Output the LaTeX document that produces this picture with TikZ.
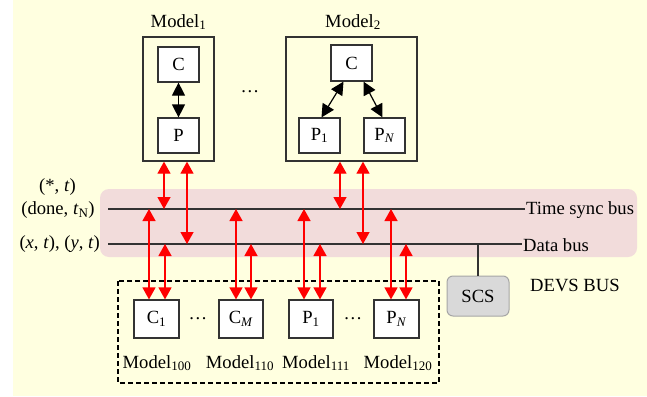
\documentclass[tikz,border=0pt]{standalone}
\usepackage{fontspec}
\setmainfont{Liberation Serif}
\usetikzlibrary{arrows.meta,calc}
\definecolor{bgyellow}{HTML}{FFFFE0}
\definecolor{buspink}{HTML}{F2DCDB}
\definecolor{scsgray}{HTML}{D9D9D9}
\definecolor{scsedge}{HTML}{A6A6A6}
\definecolor{edge}{HTML}{333333}
\begin{document}
\begin{tikzpicture}[x=1pt,y=-1pt,
  font=\fontsize{18.6}{21}\selectfont,
  box/.style={draw=edge, line width=1.2pt, fill=white, minimum width=41pt,
    minimum height=35pt, inner sep=0pt},
  leafbox/.style={box, minimum width=44pt, minimum height=38pt},
  frame/.style={draw=edge, line width=1.3pt, inner sep=0pt},
  busline/.style={draw=edge, line width=1.3pt},
  rarr/.style={draw=red, line width=1.3pt, <->, >={Triangle[width=13pt,length=12pt]}},
  barr/.style={draw=black, line width=1.2pt, <->, >={Triangle[width=13pt,length=13pt]}},
  txt/.style={inner sep=0pt}]

\useasboundingbox (0,0) rectangle (647,396);
\fill[bgyellow] (13,0) rectangle (647,396);

% bus band
\fill[buspink, rounded corners=9pt] (100,189) rectangle (637,257);

% upper models
\node[frame, minimum width=71pt, minimum height=124pt] (m1) at (178.5,99) {};
\node[txt] (m1lab) at (178.5,22) {Model\textsubscript{1}};
\node[box] (c) at (178.5,64.5) {C};
\node[box] (p) at (178.5,135.5) {P};
\draw[barr] (c) -- (p);

\node[txt] (dotsup) at (250,92) {\dots};

\node[frame, minimum width=131pt, minimum height=124pt] (m2) at (351.5,99) {};
\node[txt] (m2lab) at (353,22) {Model\textsubscript{2}};
\node[box, minimum height=36pt] (c2) at (351.5,63) {C};
\node[box] (p1) at (319.5,135.5) {P\textsubscript{1}};
\node[box] (pn) at (384.5,135.5) {P\textsubscript{\textit{N}}};
\draw[barr] ($(c2.south)+(-8,0)$) -- ($(p1.north)+(2,0)$);
\draw[barr] ($(c2.south)+(12,0)$) -- ($(pn.north)+(-2,0)$);

% buses
\node[anchor=west, inner sep=1pt] (tslab) at (525,210) {Time sync bus};
\node[anchor=west, inner sep=1pt] (dblab) at (522,245) {Data bus};
\coordinate (tsL) at (108,209);
\coordinate (dbL) at (108,244);
\draw[busline] (tsL) -- (tsL -| tslab.west);
\draw[busline] (dbL) -- (dbL -| dblab.west);

\node[txt] (lab1) at (57.5,187) {(*, \textit{t})};
\node[txt] (lab2) at (58,210) {(done, \textit{t}\textsubscript{N})};
\node[txt, anchor=east] (lab3) at (100,244) {(\textit{x}, \textit{t}), (\textit{y}, \textit{t})};

% lower models
\draw[dashed, line width=1.3pt, dash pattern=on 5pt off 3pt] (118,281) rectangle (439,383);
\node[leafbox, minimum width=45pt] (c1) at (156.5,319) {C\textsubscript{1}};
\node[leafbox] (cm) at (241,319) {C\textsubscript{\textit{M}}};
\node[leafbox] (q1) at (311,319) {P\textsubscript{1}};
\node[leafbox, minimum width=45pt] (qn) at (396.5,319) {P\textsubscript{\textit{N}}};
\node[txt] (dl1) at (198,319) {\dots};
\node[txt] (dl2) at (353,319) {\dots};
\node[txt] (n100) at (157,363) {Model\textsubscript{100}};
\node[txt] (n110) at (240,363) {Model\textsubscript{110}};
\node[txt] (n111) at (316,363) {Model\textsubscript{111}};
\node[txt] (n120) at (398,363) {Model\textsubscript{120}};

% SCS
\node[draw=scsedge, fill=scsgray, line width=1pt, rounded corners=6pt,
  minimum width=62pt, minimum height=40pt, inner sep=0pt] (scs) at (478,296) {SCS};
\draw[busline] (scs.north) -- (scs.north |- dbL);
\node[anchor=west, inner sep=0pt] (devs) at (530,285) {DEVS BUS};

% message arrows, upper models
\draw[rarr] (m1.south -| 164,0) -- (tsL -| 164,0);
\draw[rarr] (m1.south -| 187,0) -- (dbL -| 187,0);
\draw[rarr] (m2.south -| 340,0) -- (tsL -| 340,0);
\draw[rarr] (m2.south -| 363,0) -- (dbL -| 363,0);

% message arrows, lower models
\draw[rarr] (tsL -| 149,0) -- (c1.north -| 149,0);
\draw[rarr] (dbL -| 165,0) -- (c1.north -| 165,0);
\draw[rarr] (tsL -| 236,0) -- (cm.north -| 236,0);
\draw[rarr] (dbL -| 251,0) -- (cm.north -| 251,0);
\draw[rarr] (tsL -| 304,0) -- (q1.north -| 304,0);
\draw[rarr] (dbL -| 320,0) -- (q1.north -| 320,0);
\draw[rarr] (tsL -| 391,0) -- (qn.north -| 391,0);
\draw[rarr] (dbL -| 406,0) -- (qn.north -| 406,0);
\end{tikzpicture}
\end{document}
